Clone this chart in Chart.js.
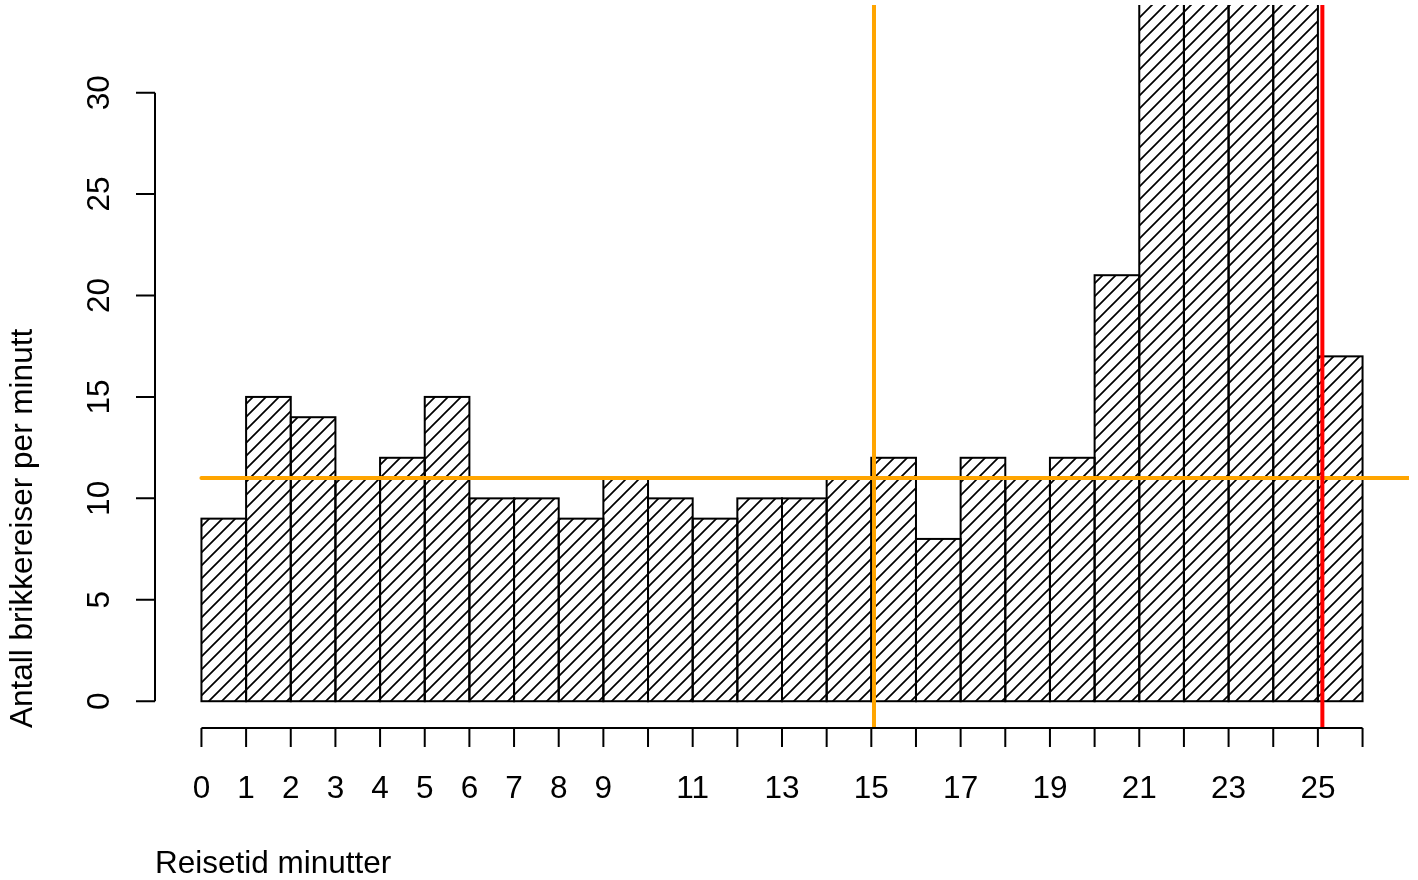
<!DOCTYPE html>
<html>
<head>
<meta charset="utf-8">
<title>Reisetid</title>
<script src="https://cdn.jsdelivr.net/npm/chart.js@4.4.1/dist/chart.umd.min.js"></script>
<style>
    html, body { margin: 0; padding: 0; background: #fff; }
    canvas { display: block; }
</style>
</head>
<body>
<canvas id="chart" width="1418" height="880"></canvas>
<script>
// each bar covers [minutt, minutt + 1)
const minutter = [0,1,2,3,4,5,6,7,8,9,10,11,12,13,14,15,16,17,18,19,20,21,22,23,24,25];
// bars 21-24 run past the top of the plot, so only "above 34" is known
const antall   = [9,15,14,11,12,15,10,10,9,11,10,9,10,10,11,12,8,12,11,12,21,40,42,41,39,17];

const yTicks  = [0,5,10,15,20,25,30];
const xTicks  = [0,1,2,3,4,5,6,7,8,9,10,11,12,13,14,15,16,17,18,19,20,21,22,23,24,25,26];
const xLabels = [0,1,2,3,4,5,6,7,8,9,11,13,15,17,19,21,23,25];

const snitt      = 11;     // orange horizontal line
const snittStart = 0;
const grenseGul  = 15.06;  // orange vertical line
const grenseRod  = 25.1;   // red vertical line

const xTitle = 'Reisetid minutter';
const yTitle = 'Antall brikkereiser per minutt';

const FONT = '31.5px "Liberation Sans", Arial, sans-serif';
const ORANGE = '#FFA500';
const RED = '#FF0000';

function hatch(step) {
    const c = document.createElement('canvas');
    c.width = c.height = step;
    const g = c.getContext('2d');
    g.strokeStyle = '#000';
    g.lineWidth = 1.7;
    g.beginPath();
    g.moveTo(-2, step + 2); g.lineTo(step + 2, -2);
    g.moveTo(-2, 2); g.lineTo(2, -2);
    g.moveTo(step - 2, step + 2); g.lineTo(step + 2, step - 2);
    g.stroke();
    return g.createPattern(c, 'repeat');
}

function seg(ctx, x1, y1, x2, y2, color) {
    ctx.strokeStyle = color;
    ctx.beginPath();
    ctx.moveTo(x1, y1);
    ctx.lineTo(x2, y2);
    ctx.stroke();
}

// R-style outlines, reference lines, axes and titles
const rStyle = {
    id: 'rStyle',
    afterDatasetsDraw(chart) {
        const { ctx, chartArea: a, scales: { x, y } } = chart;
        ctx.save();
        ctx.beginPath();
        ctx.rect(a.left, a.top, a.right - a.left, a.bottom - a.top);
        ctx.clip();

        ctx.strokeStyle = '#000';
        ctx.lineWidth = 2;
        chart.getDatasetMeta(0).data.forEach(b => {
            ctx.strokeRect(b.x - b.width / 2, b.y, b.width, b.base - b.y);
        });

        ctx.lineWidth = 4;
        ctx.lineCap = 'round';
        const ys = y.getPixelForValue(snitt);
        seg(ctx, x.getPixelForValue(snittStart), ys, a.right + 10, ys, ORANGE);
        const xg = x.getPixelForValue(grenseGul);
        seg(ctx, xg, a.top - 10, xg, a.bottom + 10, ORANGE);
        const xr = x.getPixelForValue(grenseRod);
        seg(ctx, xr, a.top - 10, xr, a.bottom + 10, RED);
        ctx.restore();
    },
    afterDraw(chart) {
        const { ctx, chartArea: a, scales: { x, y } } = chart;
        const tick = 19;
        ctx.save();
        ctx.strokeStyle = '#000';
        ctx.lineWidth = 2;
        ctx.beginPath();
        ctx.moveTo(a.left, y.getPixelForValue(yTicks[0]));
        ctx.lineTo(a.left, y.getPixelForValue(yTicks[yTicks.length - 1]));
        yTicks.forEach(v => {
            const p = y.getPixelForValue(v);
            ctx.moveTo(a.left, p); ctx.lineTo(a.left - tick, p);
        });
        ctx.moveTo(x.getPixelForValue(xTicks[0]), a.bottom);
        ctx.lineTo(x.getPixelForValue(xTicks[xTicks.length - 1]), a.bottom);
        xTicks.forEach(v => {
            const p = x.getPixelForValue(v);
            ctx.moveTo(p, a.bottom); ctx.lineTo(p, a.bottom + tick);
        });
        ctx.stroke();

        ctx.fillStyle = '#000';
        ctx.font = FONT;
        ctx.textBaseline = 'alphabetic';
        ctx.textAlign = 'center';
        xLabels.forEach(v => ctx.fillText(String(v), x.getPixelForValue(v), a.bottom + 70));
        yTicks.forEach(v => {
            ctx.save();
            ctx.translate(a.left - 46, y.getPixelForValue(v));
            ctx.rotate(-Math.PI / 2);
            ctx.fillText(String(v), 0, 0);
            ctx.restore();
        });

        ctx.textAlign = 'left';
        ctx.fillText(xTitle, a.left, a.bottom + 145);
        ctx.translate(a.left - 123, a.bottom);
        ctx.rotate(-Math.PI / 2);
        ctx.fillText(yTitle, 0, 0);
        ctx.restore();
    }
};

new Chart(document.getElementById('chart'), {
    type: 'bar',
    data: {
        datasets: [{
            data: minutter.map((m, i) => ({ x: m + 0.5, y: antall[i] })),
            backgroundColor: hatch(13),
            borderWidth: 0,
            barPercentage: 1,
            categoryPercentage: 1
        }]
    },
    options: {
        responsive: false,
        devicePixelRatio: 1,
        animation: false,
        layout: { padding: { left: 155, right: 9, top: 5, bottom: 152 } },
        plugins: { legend: { display: false }, tooltip: { enabled: false } },
        scales: {
            x: {
                type: 'linear', min: -1.04, max: 27.04, display: false, offset: false,
                afterBuildTicks: s => { s.ticks = xTicks.map(v => ({ value: v })); }
            },
            y: {
                type: 'linear', min: -1.32, max: 34.32, display: false,
                afterBuildTicks: s => { s.ticks = yTicks.map(v => ({ value: v })); }
            }
        }
    },
    plugins: [rStyle]
});
</script>
</body>
</html>
